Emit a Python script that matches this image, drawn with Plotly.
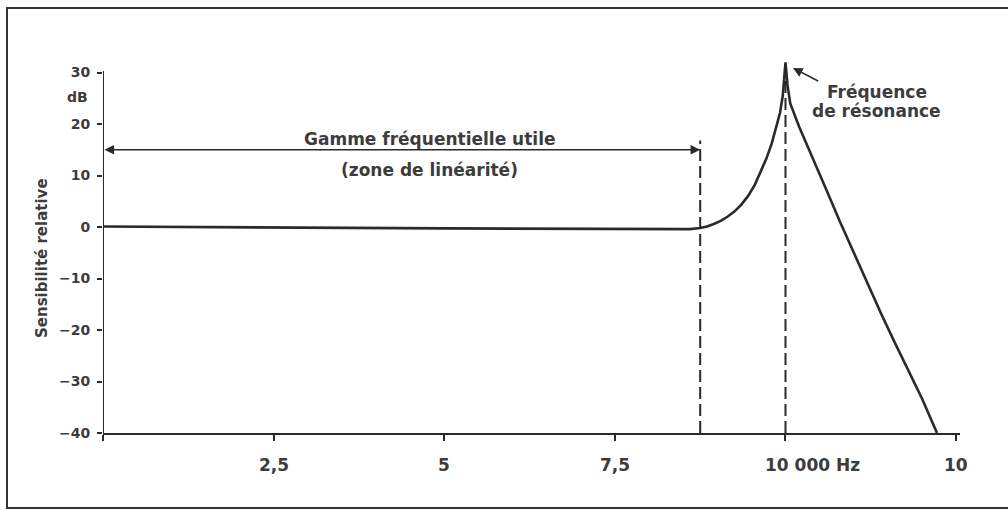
import plotly.graph_objects as go

# Relative sensitivity of a sensor versus frequency (kHz)
freq_khz = [0.0, 1.0, 2.0, 3.0, 4.0, 5.0, 6.0, 7.0, 8.0, 8.6, 8.75, 8.85, 8.95, 9.05,
            9.15, 9.25, 9.35, 9.45, 9.55, 9.65, 9.72, 9.8, 9.86, 9.92, 9.96, 9.99, 10.0,
            10.03, 10.07, 10.2, 10.4, 10.6, 10.8, 11.0, 11.2, 11.4, 11.6, 11.8, 12.0, 12.22]
sens_db = [0.1, 0.0, -0.05, -0.1, -0.2, -0.25, -0.3, -0.35, -0.4, -0.4, -0.2, 0.1, 0.6, 1.2,
           2.0, 3.0, 4.3, 6.0, 8.2, 11.0, 13.3, 16.3, 19.0, 22.2, 25.5, 29.5, 32.0,
           27.5, 24.0, 19.5, 13.5, 7.2, 1.0, -5.0, -11.0, -16.8, -22.4, -27.9, -33.3, -40.0]

x_tick_vals = [0, 2.5, 5, 7.5, 10, 12.5]
x_tick_text = ["", "2,5", "5", "7,5", "10 000 Hz", "10"]
y_tick_vals = [30, 20, 10, 0, -10, -20, -30, -40]
y_tick_text = ["30", "20", "10", "0", "\u221210", "\u221220", "\u221230", "\u221240"]

useful_band_end = 8.75      # end of the linear zone (kHz)
resonance_freq = 10.0       # resonance frequency (kHz)
band_arrow_level = 15       # dB level of the double arrow
band_marker_top = 16.8      # top of the dashed marker at the band end
resonance_marker_top = 32.5 # top of the dashed marker at resonance
axis_top = 30.3

# Layout geometry
W, H = 1008, 510
ML, MR, MT, MB = 103, 48, 52, 77
X_RANGE = [0, 12.557]
Y_RANGE = [-40, 34]
PW = W - ML - MR
PH = H - MT - MB

INK = "#2a2a2a"
TXT = "#3c3c3c"
FONT = "DejaVu Sans"


def px_to_paper_x(px):
    return (px - ML) / PW


def px_to_paper_y(py):
    return (H - MB - py) / PH


fig = go.Figure()

fig.add_trace(go.Scatter(
    x=freq_khz, y=sens_db, mode="lines",
    line=dict(color=INK, width=2.6),
    hoverinfo="skip", showlegend=False,
))

dash_style = dict(color=INK, width=2, dash="12px,5px")
shapes = [
    # vertical axis line
    dict(type="line", xref="x", yref="y", x0=0, x1=0, y0=Y_RANGE[0], y1=axis_top,
         line=dict(color=INK, width=2)),
    # dashed markers
    dict(type="line", xref="x", yref="y", x0=useful_band_end, x1=useful_band_end,
         y0=Y_RANGE[0], y1=band_marker_top, line=dash_style),
    dict(type="line", xref="x", yref="y", x0=resonance_freq, x1=resonance_freq,
         y0=Y_RANGE[0], y1=resonance_marker_top, line=dash_style),
    # outer frame (right side runs past the page edge)
    dict(type="rect", xref="paper", yref="paper",
         x0=px_to_paper_x(7), x1=px_to_paper_x(1040),
         y0=px_to_paper_y(508), y1=px_to_paper_y(8),
         line=dict(color="#333333", width=2)),
]

annotations = []

# Double arrow spanning the useful frequency range
annotations.append(dict(
    x=useful_band_end, y=band_arrow_level, ax=0, ay=band_arrow_level,
    xref="x", yref="y", axref="x", ayref="y", text="",
    showarrow=True, arrowside="end+start", arrowhead=2, startarrowhead=2,
    arrowsize=1.2, startarrowsize=1.2, arrowwidth=1.6, arrowcolor=INK,
    standoff=0, startstandoff=0,
))

label_font = dict(family=FONT, size=17, color=TXT, weight="bold")
annotations += [
    dict(x=4.79, y=17.2, xref="x", yref="y", text="Gamme fréquentielle utile",
         showarrow=False, font=label_font, xanchor="center", yanchor="middle"),
    dict(x=4.79, y=11.0, xref="x", yref="y", text="(zone de linéarité)",
         showarrow=False, font=label_font, xanchor="center", yanchor="middle"),
    dict(x=11.34, y=26.3, xref="x", yref="y", text="Fréquence",
         showarrow=False, font=label_font, xanchor="center", yanchor="middle"),
    dict(x=11.34, y=22.6, xref="x", yref="y", text="de résonance",
         showarrow=False, font=label_font, xanchor="center", yanchor="middle"),
    # pointer to the resonance peak
    dict(x=10.11, y=30.9, ax=10.5, ay=28.2, xref="x", yref="y", axref="x", ayref="y",
         text="", showarrow=True, arrowhead=2, arrowsize=1.2, arrowwidth=1.6,
         arrowcolor=INK, standoff=0),
]

# x tick labels
x_label_anchor = ["center", "center", "center", "center", "left", "center"]
x_label_shift = [0, 0, 0, 0, -22, 0]
for val, txt, anc, sh in zip(x_tick_vals, x_tick_text, x_label_anchor, x_label_shift):
    if not txt:
        continue
    annotations.append(dict(
        x=val, y=0, xref="x", yref="paper", text=txt, showarrow=False,
        xanchor=anc, yanchor="top", xshift=sh, yshift=-20,
        font=dict(family=FONT, size=17, color=TXT, weight="bold"),
    ))

# unit under the top y tick
annotations.append(dict(
    x=px_to_paper_x(90), y=px_to_paper_y(97), xref="paper", yref="paper",
    text="dB", showarrow=False, xanchor="right", yanchor="middle",
    font=dict(family=FONT, size=14, color=TXT, weight="bold"),
))

# y axis title
annotations.append(dict(
    x=px_to_paper_x(42), y=px_to_paper_y(258), xref="paper", yref="paper",
    text="Sensibilité relative", showarrow=False, textangle=-90,
    xanchor="center", yanchor="middle",
    font=dict(family=FONT, size=15, color=TXT, weight="bold"),
))

fig.update_layout(
    width=W, height=H, autosize=False,
    margin=dict(l=ML, r=MR, t=MT, b=MB, pad=0),
    paper_bgcolor="white", plot_bgcolor="white",
    showlegend=False,
    shapes=shapes, annotations=annotations,
    xaxis=dict(
        range=X_RANGE, showgrid=False, zeroline=False,
        showline=True, linecolor=INK, linewidth=2,
        ticks="outside", ticklen=6, tickwidth=2, tickcolor=INK,
        tickvals=x_tick_vals, showticklabels=False, fixedrange=True,
    ),
    yaxis=dict(
        range=Y_RANGE, showgrid=False, zeroline=False, showline=False,
        ticks="outside", ticklen=5, tickwidth=2, tickcolor=INK,
        tickvals=y_tick_vals, ticktext=y_tick_text, ticklabelstandoff=4,
        tickfont=dict(family=FONT, size=14, color=TXT, weight="bold"),
        fixedrange=True,
    ),
)

fig.write_html("out.html")
